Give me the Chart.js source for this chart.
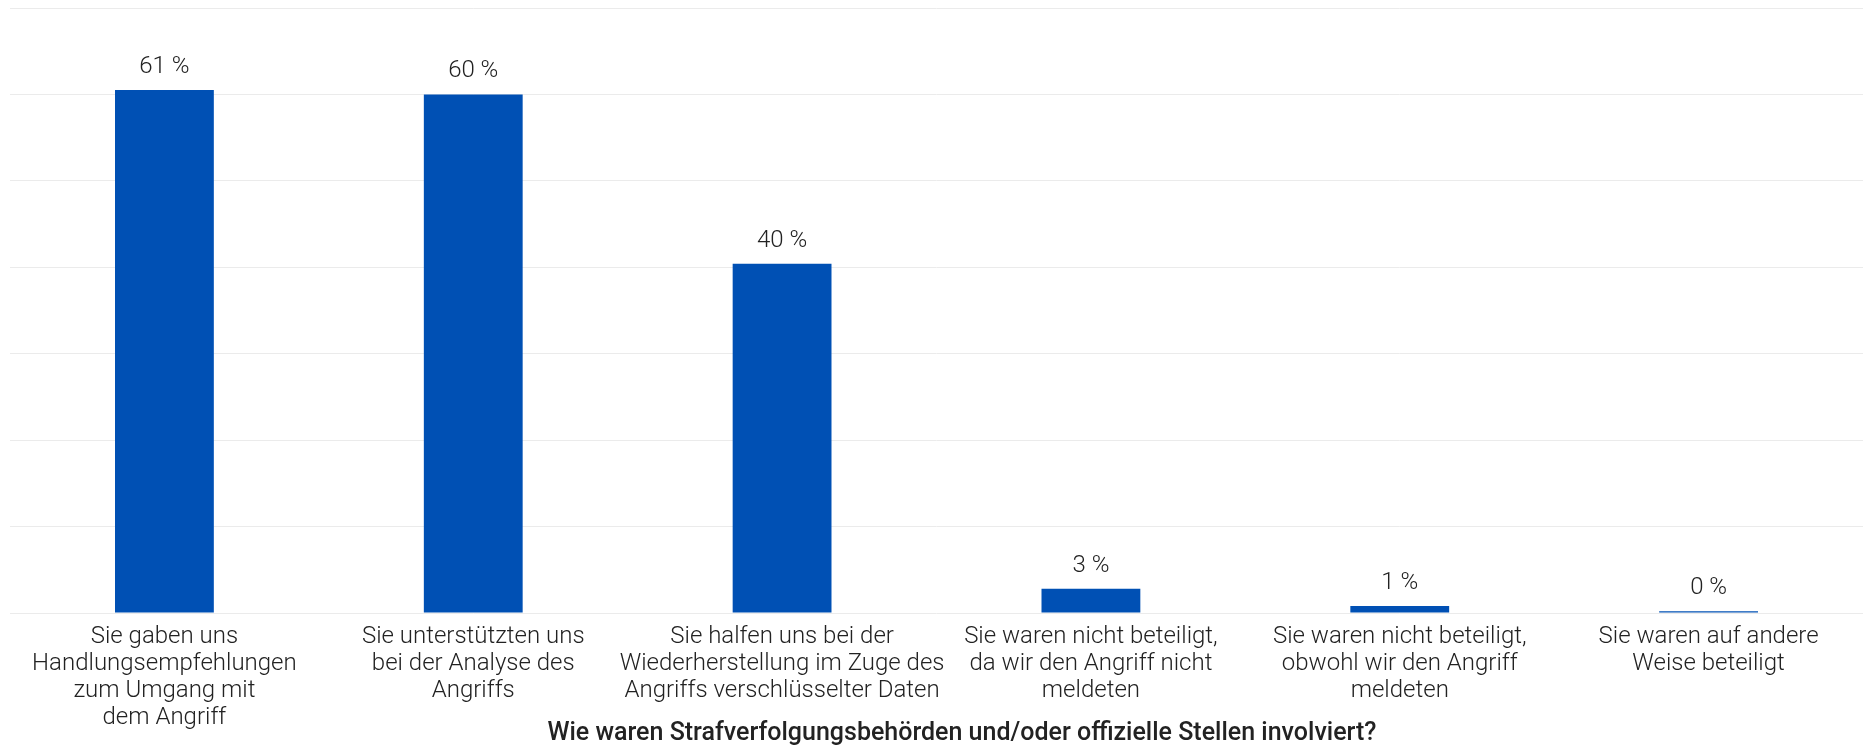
<!DOCTYPE html>
<html lang="de">
<head>
  <meta charset="UTF-8">
  <title>Strafverfolgungsbehörden</title>
  <script src="https://cdn.jsdelivr.net/npm/chart.js"></script>
  <style>
    body {
      margin: 0;
      background: #ffffff;
    }
    #chart {
      display: block;
    }
  </style>
</head>
<body>
  <canvas id="chart" width="1866" height="746"></canvas>

  <script>
    // data (bar heights estimated, labels show rounded %)
    const categories = [
      ['Sie gaben uns', 'Handlungsempfehlungen', 'zum Umgang mit', 'dem Angriff'],
      ['Sie unterstützten uns', 'bei der Analyse des', 'Angriffs'],
      ['Sie halfen uns bei der', 'Wiederherstellung im Zuge des', 'Angriffs verschlüsselter Daten'],
      ['Sie waren nicht beteiligt,', 'da wir den Angriff nicht', 'meldeten'],
      ['Sie waren nicht beteiligt,', 'obwohl wir den Angriff', 'meldeten'],
      ['Sie waren auf andere', 'Weise beteiligt']
    ];
    const values = [60.5, 60.0, 40.4, 2.8, 0.8, 0.2];
    const axisTitle = 'Wie waren Strafverfolgungsbehörden und/oder offizielle Stellen involviert?';
    const yMax = 70;
    const yStep = 10;

    const textColor = '#222222';
    const fontFamily = 'Roboto, sans-serif';

    // value labels above the bars
    const valueLabels = {
      id: 'valueLabels',
      afterDatasetsDraw(chart) {
        const ctx = chart.ctx;
        const meta = chart.getDatasetMeta(0);
        ctx.save();
        ctx.font = '300 24px ' + fontFamily;
        ctx.fillStyle = textColor;
        ctx.textAlign = 'center';
        ctx.textBaseline = 'middle';
        meta.data.forEach((bar, i) => {
          ctx.fillText(Math.round(values[i]) + ' %', bar.x, bar.y - 23);
        });
        ctx.restore();
      }
    };

    const ctx = document.getElementById('chart').getContext('2d');
    const chart = new Chart(ctx, {
      type: 'bar',
      data: {
        labels: categories,
        datasets: [{
          data: values,
          backgroundColor: '#0050b4',
          barPercentage: 0.32,
          categoryPercentage: 1
        }]
      },
      options: {
        responsive: false,
        animation: false,
        devicePixelRatio: 1,
        layout: {
          padding: { top: 8, left: 10, right: 3, bottom: 0 }
        },
        plugins: {
          legend: { display: false },
          tooltip: { enabled: false }
        },
        scales: {
          x: {
            grid: { display: false, drawTicks: false },
            border: { display: false },
            ticks: {
              color: textColor,
              padding: 10,
              maxRotation: 0,
              autoSkip: false,
              font: { family: fontFamily, size: 24, weight: '300', lineHeight: 1.125 }
            },
            title: {
              display: true,
              // en spaces nudge the centred title right, as in the original
              text: '\u2002\u2002\u2002\u2002' + axisTitle,
              color: textColor,
              font: { family: fontFamily, size: 25, weight: '500', lineHeight: 1.2 },
              padding: { top: -22, bottom: -3 }
            }
          },
          y: {
            min: 0,
            max: yMax,
            grid: { color: '#ebebeb', lineWidth: 1, drawTicks: false },
            border: { display: false },
            ticks: { display: false, stepSize: yStep }
          }
        }
      },
      plugins: [valueLabels]
    });
  </script>
</body>
</html>
